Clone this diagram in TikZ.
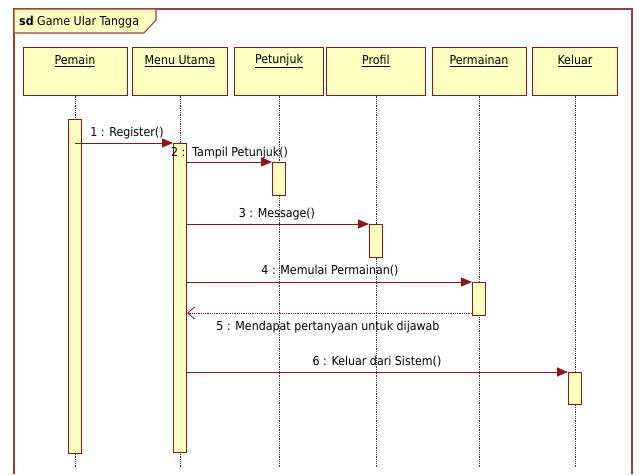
\documentclass[tikz,border=0pt]{standalone}
\usepackage{fontspec}
\setmainfont{DejaVu Sans Condensed}
\usetikzlibrary{arrows.meta}
\definecolor{drk}{RGB}{150,20,20}
\definecolor{frm}{RGB}{165,60,60}
\definecolor{ylw}{RGB}{255,255,192}
\tikzset{
  x=1pt, y=-1pt,
  every node/.style={font=\fontsize{12.3}{14}\selectfont, inner sep=0pt},
  objbox/.style={draw=drk, fill=ylw, line width=1pt, minimum height=48pt},
  actbox/.style={draw=drk, fill=ylw, line width=1pt, minimum width=13pt, anchor=north},
  lifeline/.style={densely dotted, line width=0.8pt, black!80},
  msg/.style={drk, line width=0.9pt, -{Triangle[length=11pt,width=9pt]}},
  ret/.style={drk, line width=0.8pt, densely dotted, -{Straight Barb[length=7pt,width=12pt]}},
}
\begin{document}
\begin{tikzpicture}
\useasboundingbox (0,0) rectangle (639,474);
% frame
\draw[frm, line width=1.1pt] (14,474) -- (14,9) -- (632,9) -- (632,474);
\draw[frm, line width=1.1pt, fill=ylw] (14,9) -- (156,9) -- (156,20) -- (144,33) -- (14,33) -- cycle;
\node[anchor=west] (title) at (19,22) {\textbf{sd} Game Ular Tangga};
% lifeline boxes
\node[objbox, minimum width=104pt] (pemain) at (75,71) {};
\node[objbox, minimum width=95pt] (menu) at (180,71) {};
\node[objbox, minimum width=89pt] (petunjuk) at (279,71) {};
\node[objbox, minimum width=99pt] (profil) at (376,71) {};
\node[objbox, minimum width=94pt] (permainan) at (479,71) {};
\node[objbox, minimum width=85pt] (keluar) at (575,71) {};
\node (tpemain) at (75,61) {\underline{Pemain}};
\node (tmenu) at (180,61) {\underline{Menu Utama}};
\node (tpetunjuk) at (279,61) {\underline{Petunjuk}};
\node (tprofil) at (376,61) {\underline{Profil}};
\node (tpermainan) at (479,61) {\underline{Permainan}};
\node (tkeluar) at (575,61) {\underline{Keluar}};
% lifelines
\foreach \n in {pemain,menu,petunjuk,profil,permainan,keluar}{
  \coordinate (\n-end) at (\n.south |- 0,468);
  \draw[lifeline] (\n.south) -- (\n-end);
}
% activations
\node[actbox, minimum height=334pt] (a1) at (75,119) {};
\node[actbox, minimum height=309pt] (a2) at (180,143) {};
\node[actbox, minimum height=33pt] (a3) at (279,162) {};
\node[actbox, minimum height=33pt] (a4) at (376,224) {};
\node[actbox, minimum height=33pt] (a5) at (479,282) {};
\node[actbox, minimum height=32pt] (a6) at (575,372) {};
% messages
\draw[msg] (a1.center |- a2.north) -- (a2.north west);
\node (l1) at (127,133) {1 : Register()};
\draw[msg] (a2.east |- a3.north) -- (a3.north west);
\node[anchor=west] (l2) at (171,153) {2 :\ \ Tampil Petunjuk()};
\draw[msg] (a2.east |- a4.north) -- (a4.north west);
\node (l3) at (277,214) {3 : Message()};
\draw[msg] (a2.east |- a5.north) -- (a5.north west);
\node (l4) at (330,271) {4 : Memulai Permainan()};
\coordinate (r5s) at ([yshift=3pt]a5.south west);
\draw[ret] (r5s) -- (a2.east |- r5s);
\node (l5) at (328,327) {5 : Mendapat pertanyaan untuk dijawab};
\draw[msg] (a2.east |- a6.north) -- (a6.north west);
\node (l6) at (377,362) {6 : Keluar dari Sistem()};
\end{tikzpicture}
\end{document}
